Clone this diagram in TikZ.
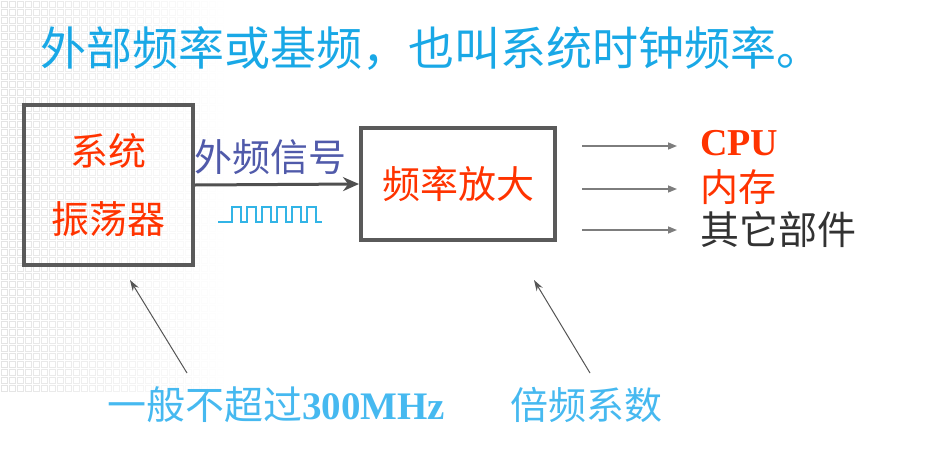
\documentclass[tikz,border=0pt]{standalone}
\usepackage{fontspec}
\setmainfont{Liberation Serif}
\newfontfamily\cjk{Noto Sans CJK SC}
\usepackage{xcolor}
\usepackage{tikz}
\usetikzlibrary{positioning,arrows.meta}

\definecolor{titleblue}{RGB}{25,168,230}
\definecolor{noteblue}{RGB}{70,185,240}
\definecolor{hotred}{RGB}{255,51,0}
\definecolor{boxgray}{RGB}{90,90,90}
\definecolor{siggray}{RGB}{80,80,80}
\definecolor{fangray}{RGB}{125,125,125}
\definecolor{notegray}{RGB}{85,85,85}
\definecolor{slateblue}{RGB}{80,90,170}
\definecolor{wavecyan}{RGB}{50,180,230}
\definecolor{darktext}{RGB}{50,50,50}

\begin{document}
\begin{tikzpicture}[
            x=1pt, y=-1pt,
            box/.style={draw=boxgray, line width=4pt, inner sep=0pt},
            big/.style={inner sep=0pt, font=\cjk\fontsize{38}{68}\selectfont},
            sig/.style={draw=siggray, line width=3pt, -{Stealth[length=16pt,width=14pt]}},
            fan/.style={draw=fangray, line width=1.5pt, -{Triangle[length=9pt,width=7pt]}},
            note/.style={draw=notegray, line width=1pt, -{Stealth[length=11pt,width=7pt]}},
            wave/.style={draw=wavecyan, line width=2pt},
            gridsq/.style={draw=gray!70, line width=0.8pt}
        ]
            \useasboundingbox (0,0) rectangle (939,474);
            % background squares
            \foreach \i in {0,...,27}
                \foreach \j in {0,...,48} {
                    \pgfmathsetmacro\fade{0.3*(1-\i/28)}
                    \draw[gridsq, opacity=\fade] (\i*8+1,\j*8+1) rectangle ++(6,6);
                }
            % Title
            \node[big, anchor=west, text=titleblue, font=\cjk\fontsize{46}{50}\selectfont] (title) at (40,48) {外部频率或基频，也叫系统时钟频率。};
            \begin{scope}[
                every node/.style={big}
            ]
                % Blocks
                \node[box, align=center, text=hotred, minimum width=169pt, minimum height=160pt] (osc) at (108.5,185) {系统\\振荡器};
                \node[box, text=hotred, minimum width=194pt, minimum height=112pt] (amp) at (458,184) {频率放大};
                % Outputs
                \node[anchor=west, text=hotred, font=\bfseries\fontsize{38}{44}\selectfont] (cpu) at (700,143) {CPU};
                \node[anchor=west, text=hotred] (mem) at (700,187) {内存};
                \node[anchor=west, text=darktext, font=\cjk\fontsize{39}{44}\selectfont] (other) at (700,230) {其它部件};
                % Notes
                \node[anchor=west, text=noteblue, font=\cjk\fontsize{39}{44}\selectfont] (base) at (107,405) {一般不超过\textbf{\rmfamily 300MHz}};
                \node[anchor=west, text=noteblue] (mult) at (510,405) {倍频系数};
            \end{scope}
            % Signal
            \draw[sig] (osc.east) -- node[big, above=8pt, xshift=-7pt, text=slateblue] (sigtag) {外频信号} (amp.west);
            \draw[wave] (218,222) -- (232,222)
                \foreach \k in {0,...,5} { -- ++(0,-15) -- ++(9,0) -- ++(0,15) -- ++(6,0) };
            % Fan out
            \coordinate (s1) at (582,146);
            \coordinate (s2) at (582,189);
            \coordinate (s3) at (582,230);
            \draw[fan, shorten >=23pt] (s1) -- (s1 -| cpu.west);
            \draw[fan, shorten >=23pt] (s2) -- (s2 -| mem.west);
            \draw[fan, shorten >=23pt] (s3) -- (s3 -| other.west);
            % Pointers
            \coordinate (t1) at (187,373);
            \coordinate (h1) at (130,280);
            \coordinate (t2) at (590,373);
            \coordinate (h2) at (534,280);
            \draw[note] (t1) -- (h1);
            \draw[note] (t2) -- (h2);
        \end{tikzpicture}
\end{document}
